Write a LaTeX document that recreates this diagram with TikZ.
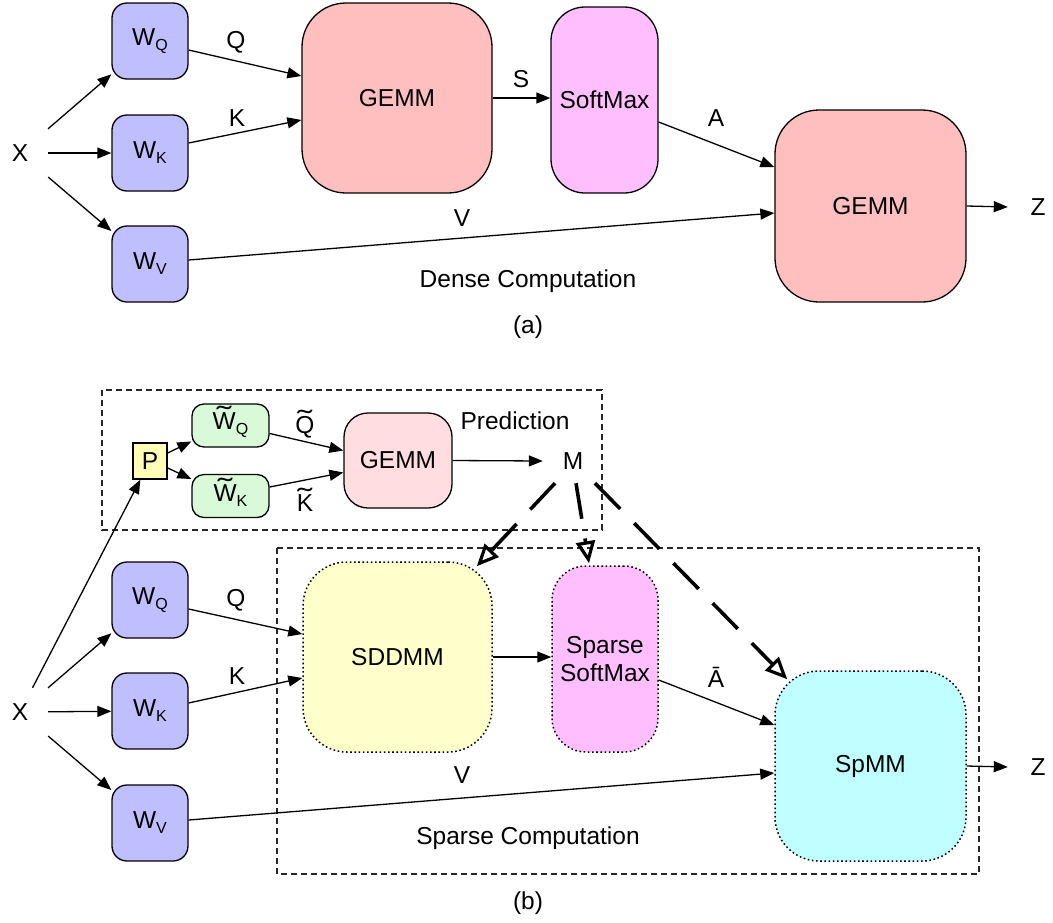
\documentclass[tikz,border=0pt]{standalone}
\usepackage{fontspec}
\usepackage{graphicx}
\setmainfont{Liberation Sans}
\usetikzlibrary{arrows.meta,calc}

\definecolor{wblue}{RGB}{191,191,255}
\definecolor{gemmpink}{RGB}{255,191,191}
\definecolor{smpink}{RGB}{255,191,255}
\definecolor{sdyellow}{RGB}{255,255,204}
\definecolor{spcyan}{RGB}{191,255,255}
\definecolor{tgreen}{RGB}{216,250,216}
\definecolor{pyellow}{RGB}{255,255,184}
\definecolor{lightpink}{RGB}{255,221,225}

% lowered subscript and tilde accent in the text font
\newcommand{\sub}[1]{\raisebox{-0.2em}{\fontsize{16}{16}\selectfont #1}}
\newcommand{\tld}[1]{\ooalign{#1\cr\hidewidth\raisebox{0.17em}{\scalebox{1.8}[1.1]{\char"02DC}}\hidewidth\cr}}

\begin{document}
\begin{tikzpicture}[x=1pt,y=-1pt,
  font=\fontsize{24.5}{28}\selectfont,
  every node/.style={inner sep=0pt},
  arr/.style={line width=1.3pt,-{Triangle[length=14pt,width=11pt]}},
  marr/.style={line width=3.6pt, dash pattern=on 36pt off 20pt,
    -{Triangle[open,length=22pt,width=19pt,line width=3.2pt]}},
  block/.style={draw, line width=1.3pt, align=center},
  sparse/.style={line width=1.5pt, dash pattern=on 1.6pt off 2.6pt},
  wbox/.style={block, fill=wblue, rounded corners=15pt, minimum width=76pt, minimum height=76pt},
  bigbox/.style={block, rounded corners=44pt, minimum width=190pt, minimum height=190pt},
  tallbox/.style={block, rounded corners=34pt, minimum width=107pt, minimum height=186pt},
  twbox/.style={block, fill=tgreen, rounded corners=12pt, minimum width=77pt, minimum height=43pt},
  group/.style={line width=1.3pt, black!85, dash pattern=on 6pt off 4pt},
  term/.style={minimum width=60pt, minimum height=48pt},
  lbl/.style={}
]
\useasboundingbox (0,0) rectangle (1053,922);

% ---------------- (a) dense computation ----------------
\node[term, minimum width=56pt] (X1) at (20,153) {X};
\node[wbox] (WQ1) at (150,41) {W\sub{Q}};
\node[wbox] (WK1) at (150,153) {W\sub{K}};
\node[wbox] (WV1) at (150,264) {W\sub{V}};
\node[bigbox, fill=gemmpink] (G1) at (397,98) {GEMM};
\node[tallbox, fill=smpink] (SM1) at (604.5,100) {SoftMax};
\node[bigbox, fill=gemmpink, minimum width=191pt, minimum height=192pt] (G2) at (870.5,206) {GEMM};
\node[term] (Z1) at (1038,207) {Z};

\draw[arr] (X1) -- (WQ1);
\draw[arr] (X1) -- (WK1);
\draw[arr] (X1) -- (WV1);
\draw[arr] ($(WQ1.east)+(0,9)$) -- ($(G1.west)+(0,-22)$);
\draw[arr] ($(WK1.east)+(0,-10)$) -- ($(G1.west)+(0,22)$);
\draw[arr] (G1.east) -- (G1.east -| SM1.west);
\draw[arr] ($(SM1.east)+(0,22)$) -- ($(G2.west)+(0,-39)$);
\draw[arr] ($(WV1.east)+(0,-4)$) -- ($(G2.west)+(0,7)$);
\draw[arr] (G2.east) -- (Z1.west);

\node[lbl] (lQ1) at (236,42) {Q};
\node[lbl] (lK1) at (237,118) {K};
\node[lbl] (lS1) at (521,79) {S};
\node[lbl] (lA1) at (716,118) {A};
\node[lbl] (lV1) at (462,218) {V};
\node[lbl] (dense) at (528,281) {Dense Computation};
\node[lbl] (capa) at (528,327) {(a)};

% ---------------- (b) sparse computation ----------------
\draw[group] (102,390) rectangle (602,530);
\draw[group] (277,548) rectangle (979,874);

\node[term, minimum width=56pt] (X2) at (20,712) {X};
\node[block, fill=pyellow, minimum width=34pt, minimum height=36pt] (P) at (150,461) {P};
\node[twbox] (TWQ) at (230.5,425.5) {\tld{W}\sub{Q}};
\node[twbox] (TWK) at (230.5,496) {\tld{W}\sub{K}};
\node[block, fill=lightpink, rounded corners=24pt, minimum width=108pt, minimum height=95pt] (G3) at (398,460.5) {GEMM};
\node[term, minimum height=44pt] (M) at (573,461) {M};
\node[lbl] (pred) at (515,421) {Prediction};
\node[lbl] (lQt) at (305,425) {\tld{Q}};
\node[lbl] (lKt) at (305,503) {\tld{K}};

\node[wbox] (WQ2) at (150,600) {W\sub{Q}};
\node[wbox] (WK2) at (150,711) {W\sub{K}};
\node[wbox] (WV2) at (150,823) {W\sub{V}};
\node[bigbox, sparse, fill=sdyellow, minimum width=189pt] (SD) at (397.5,657) {SDDMM};
\node[tallbox, sparse, fill=smpink, minimum width=106pt] (SSM) at (605,659) {Sparse\\SoftMax};
\node[bigbox, sparse, fill=spcyan, minimum width=191pt] (SP) at (870.5,766) {SpMM};
\node[term] (Z2) at (1038,767) {Z};

\draw[arr] (X2) -- (P);
\draw[arr] (X2) -- (WQ2);
\draw[arr] (X2) -- (WK2);
\draw[arr] (X2) -- (WV2);
\draw[arr] ($(P.east)+(0,-8)$) -- ($(TWQ.west)+(0,16)$);
\draw[arr] ($(P.east)+(0,7)$) -- ($(TWK.west)+(0,-17)$);
\draw[arr] ($(TWQ.east)+(0,8)$) -- ($(G3.west)+(0,-10)$);
\draw[arr] ($(TWK.east)+(0,-9)$) -- ($(G3.west)+(0,12)$);
\draw[arr] (G3.east) -- (M.west);

\draw[arr] ($(WQ2.east)+(0,9)$) -- ($(SD.west)+(0,-23)$);
\draw[arr] ($(WK2.east)+(0,-8)$) -- ($(SD.west)+(0,21)$);
\draw[arr] (SD.east) -- (SD.east -| SSM.west);
\draw[arr] ($(SSM.east)+(0,21)$) -- ($(SP.west)+(0,-41)$);
\draw[arr] ($(WV2.east)+(0,-3)$) -- ($(SP.west)+(0,7)$);
\draw[arr] (SP.east) -- (Z2.west);

\draw[marr] ($(M.south)+(-18,0)$) -- ($(SD.north east)+(-16,5)$);
\draw[marr] ($(M.south)+(3,0)$) -- ($(SSM.north)+(-16,-2)$);
\draw[marr] ($(M.south)+(22,0)$) -- ($(SP.north west)+(13,9)$);

\node[lbl] (lQ2) at (236,600) {Q};
\node[lbl] (lK2) at (237,676) {K};
\node[lbl] (lA2) at (716,677) {Ā};
\node[lbl] (lV2) at (462,775) {V};
\node[lbl] (sparsecomp) at (528,838) {Sparse Computation};
\node[lbl] (capb) at (528,903) {(b)};
\end{tikzpicture}
\end{document}
